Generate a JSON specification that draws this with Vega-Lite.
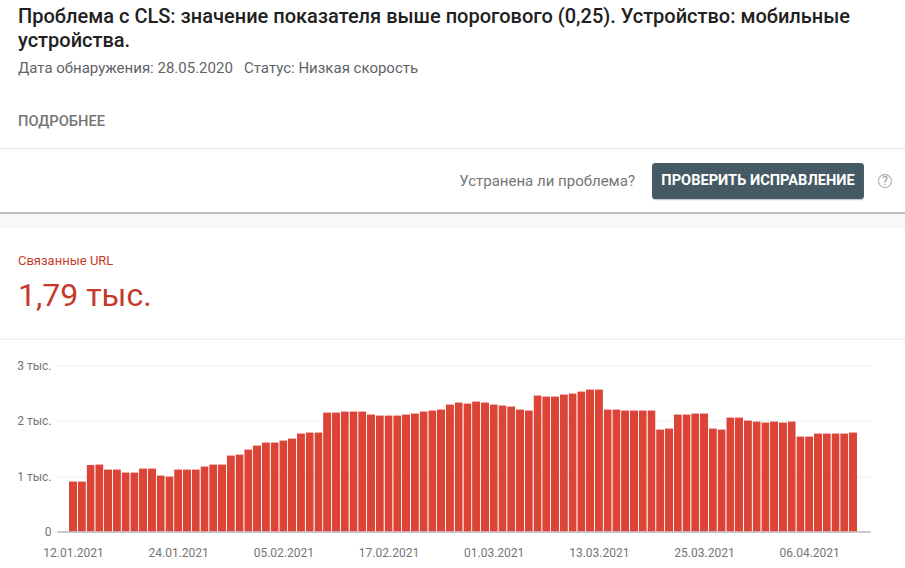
{"$schema":"https://vega.github.io/schema/vega-lite/v6.json","width":813,"height":166,"autosize":"none","padding":{"left":57,"top":365.5,"right":35,"bottom":36.5},"background":"white","view":{"stroke":null},"title":{"text":["Проблема с CLS: значение показателя выше порогового (0,25). Устройство: мобильные","устройства."],"subtitle":"Дата обнаружения: 28.05.2020\u00a0\u00a0\u00a0Статус: Низкая скорость","anchor":"start","frame":"group","dx":-39,"offset":38,"font":"Roboto","fontSize":20,"fontWeight":500,"color":"#212121","lineHeight":24,"subtitleFont":"Roboto","subtitleFontSize":15,"subtitleColor":"#5f6368","subtitlePadding":10},
"data":{"values":[{"d":"2021-01-12","v":910},{"d":"2021-01-13","v":910},{"d":"2021-01-14","v":1200},{"d":"2021-01-15","v":1217},{"d":"2021-01-16","v":1127},{"d":"2021-01-17","v":1127},{"d":"2021-01-18","v":1072},{"d":"2021-01-19","v":1072},{"d":"2021-01-20","v":1145},{"d":"2021-01-21","v":1145},{"d":"2021-01-22","v":1018},{"d":"2021-01-23","v":1000},{"d":"2021-01-24","v":1127},{"d":"2021-01-25","v":1127},{"d":"2021-01-26","v":1127},{"d":"2021-01-27","v":1180},{"d":"2021-01-28","v":1217},{"d":"2021-01-29","v":1217},{"d":"2021-01-30","v":1380},{"d":"2021-01-31","v":1398},{"d":"2021-02-01","v":1488},{"d":"2021-02-02","v":1560},{"d":"2021-02-03","v":1614},{"d":"2021-02-04","v":1614},{"d":"2021-02-05","v":1650},{"d":"2021-02-06","v":1687},{"d":"2021-02-07","v":1777},{"d":"2021-02-08","v":1795},{"d":"2021-02-09","v":1795},{"d":"2021-02-10","v":2157},{"d":"2021-02-11","v":2157},{"d":"2021-02-12","v":2175},{"d":"2021-02-13","v":2175},{"d":"2021-02-14","v":2175},{"d":"2021-02-15","v":2120},{"d":"2021-02-16","v":2102},{"d":"2021-02-17","v":2102},{"d":"2021-02-18","v":2102},{"d":"2021-02-19","v":2120},{"d":"2021-02-20","v":2139},{"d":"2021-02-21","v":2175},{"d":"2021-02-22","v":2193},{"d":"2021-02-23","v":2211},{"d":"2021-02-24","v":2301},{"d":"2021-02-25","v":2337},{"d":"2021-02-26","v":2319},{"d":"2021-02-27","v":2355},{"d":"2021-02-28","v":2337},{"d":"2021-03-01","v":2301},{"d":"2021-03-02","v":2283},{"d":"2021-03-03","v":2265},{"d":"2021-03-04","v":2211},{"d":"2021-03-05","v":2193},{"d":"2021-03-06","v":2464},{"d":"2021-03-07","v":2446},{"d":"2021-03-08","v":2446},{"d":"2021-03-09","v":2482},{"d":"2021-03-10","v":2500},{"d":"2021-03-11","v":2536},{"d":"2021-03-12","v":2572},{"d":"2021-03-13","v":2572},{"d":"2021-03-14","v":2211},{"d":"2021-03-15","v":2211},{"d":"2021-03-16","v":2193},{"d":"2021-03-17","v":2193},{"d":"2021-03-18","v":2193},{"d":"2021-03-19","v":2193},{"d":"2021-03-20","v":1849},{"d":"2021-03-21","v":1867},{"d":"2021-03-22","v":2120},{"d":"2021-03-23","v":2120},{"d":"2021-03-24","v":2139},{"d":"2021-03-25","v":2139},{"d":"2021-03-26","v":1867},{"d":"2021-03-27","v":1849},{"d":"2021-03-28","v":2066},{"d":"2021-03-29","v":2066},{"d":"2021-03-30","v":2012},{"d":"2021-03-31","v":1994},{"d":"2021-04-01","v":1976},{"d":"2021-04-02","v":1994},{"d":"2021-04-03","v":1976},{"d":"2021-04-04","v":1994},{"d":"2021-04-05","v":1723},{"d":"2021-04-06","v":1723},{"d":"2021-04-07","v":1777},{"d":"2021-04-08","v":1777},{"d":"2021-04-09","v":1777},{"d":"2021-04-10","v":1777},{"d":"2021-04-11","v":1795}]},
"layer":[
{"mark":{"type":"bar","color":"#db4437","width":8.2,"cornerRadiusTopLeft":1,"cornerRadiusTopRight":1},"encoding":{"x":{"field":"d","type":"temporal","title":null,"scale":{"type":"utc","padding":0,"domain":[{"year":2021,"month":1,"date":10,"hours":4,"minutes":10,"utc":true},{"year":2021,"month":4,"date":12,"hours":22,"minutes":34,"utc":true}],"nice":false},"axis":{"values":[{"year":2021,"month":1,"date":12,"utc":true},{"year":2021,"month":1,"date":24,"utc":true},{"year":2021,"month":2,"date":5,"utc":true},{"year":2021,"month":2,"date":17,"utc":true},{"year":2021,"month":3,"date":1,"utc":true},{"year":2021,"month":3,"date":13,"utc":true},{"year":2021,"month":3,"date":25,"utc":true},{"year":2021,"month":4,"date":6,"utc":true}],"format":"%d.%m.%Y","labelFont":"Roboto","labelFontSize":12,"labelColor":"#757575","ticks":false,"grid":false,"domainColor":"#9e9e9e","domainWidth":1,"labelPadding":16,"labelFlush":false,"labelOverlap":false}},"y":{"field":"v","type":"quantitative","title":null,"scale":{"domain":[0,3000],"nice":false},"axis":{"values":[0,1000,2000,3000],"labelExpr":"datum.value==0?'0':(datum.value/1000)+' тыс.'","labelFont":"Roboto","labelFontSize":12,"labelColor":"#757575","ticks":false,"domain":false,"gridColor":"#eeeeee","gridWidth":1,"labelPadding":6}}}},
{"data":{"values":[{"n":"band"}]},"mark":{"type":"rect","color":"#f8f8f8"},"encoding":{"x":{"datum":{"year":2021,"month":1,"date":3,"hours":16,"minutes":5,"utc":true},"type":"temporal"},"x2":{"datum":{"year":2021,"month":4,"date":16,"hours":22,"minutes":20,"utc":true}},"y":{"datum":5737,"type":"quantitative"},"y2":{"datum":5484}}},
{"data":{"values":[{"n":"line"}]},"mark":{"type":"rule","color":"#e0e0e0","strokeWidth":1},"encoding":{"x":{"datum":{"year":2021,"month":1,"date":3,"hours":16,"minutes":5,"utc":true},"type":"temporal"},"x2":{"datum":{"year":2021,"month":4,"date":16,"hours":22,"minutes":20,"utc":true}},"y":{"datum":6921,"type":"quantitative"}}},
{"data":{"values":[{"n":"line"}]},"mark":{"type":"rule","color":"#e8e8e8","strokeWidth":1},"encoding":{"x":{"datum":{"year":2021,"month":1,"date":3,"hours":16,"minutes":5,"utc":true},"type":"temporal"},"x2":{"datum":{"year":2021,"month":4,"date":16,"hours":22,"minutes":20,"utc":true}},"y":{"datum":3479,"type":"quantitative"}}},
{"data":{"values":[{"n":"shadow"}]},"mark":{"type":"rule","color":"#a8a8a8","strokeWidth":1.5},"encoding":{"x":{"datum":{"year":2021,"month":1,"date":3,"hours":16,"minutes":5,"utc":true},"type":"temporal"},"x2":{"datum":{"year":2021,"month":4,"date":16,"hours":22,"minutes":20,"utc":true}},"y":{"datum":5755,"type":"quantitative"}}},
{"data":{"values":[{"n":"button shadow"}]},"mark":{"type":"rect","color":"#c4cacd","cornerRadius":3},"encoding":{"x":{"datum":{"year":2021,"month":3,"date":19,"hours":1,"minutes":40,"utc":true},"type":"temporal"},"x2":{"datum":{"year":2021,"month":4,"date":12,"hours":6,"utc":true}},"y":{"datum":6640,"type":"quantitative"},"y2":{"datum":5985}}},
{"data":{"values":[{"n":"button"}]},"mark":{"type":"rect","color":"#455a64","cornerRadius":3},"encoding":{"x":{"datum":{"year":2021,"month":3,"date":19,"hours":1,"minutes":40,"utc":true},"type":"temporal"},"x2":{"datum":{"year":2021,"month":4,"date":12,"hours":6,"utc":true}},"y":{"datum":6659,"type":"quantitative"},"y2":{"datum":6008}}},
{"data":{"values":[{"t":"ПОДРОБНЕЕ"}]},"mark":{"type":"text","font":"Roboto","fontSize":14.7,"fontWeight":500,"color":"#757575","align":"left","baseline":"middle"},"encoding":{"text":{"field":"t"},"x":{"datum":{"year":2021,"month":1,"date":5,"hours":17,"minutes":17,"utc":true},"type":"temporal"},"y":{"datum":7400,"type":"quantitative"}}},
{"data":{"values":[{"t":"ПРОВЕРИТЬ ИСПРАВЛЕНИЕ"}]},"mark":{"type":"text","font":"Roboto","fontSize":14.6,"fontWeight":700,"color":"#ffffff","align":"center","baseline":"middle"},"encoding":{"text":{"field":"t"},"x":{"datum":{"year":2021,"month":3,"date":31,"hours":3,"minutes":50,"utc":true},"type":"temporal"},"y":{"datum":6334,"type":"quantitative"}}},
{"data":{"values":[{"t":"Устранена ли проблема?"}]},"mark":{"type":"text","font":"Roboto","fontSize":15,"color":"#757575","align":"right","baseline":"middle"},"encoding":{"text":{"field":"t"},"x":{"datum":{"year":2021,"month":3,"date":17,"hours":3,"utc":true},"type":"temporal"},"y":{"datum":6334,"type":"quantitative"}}},
{"data":{"values":[{"n":"help"}]},"mark":{"type":"point","shape":"circle","size":170,"filled":false,"stroke":"#9e9e9e","strokeWidth":1.3},"encoding":{"x":{"datum":{"year":2021,"month":4,"date":14,"hours":15,"minutes":36,"utc":true},"type":"temporal"},"y":{"datum":6334,"type":"quantitative"}}},
{"data":{"values":[{"t":"?"}]},"mark":{"type":"text","font":"Roboto","fontSize":12,"color":"#9e9e9e","align":"center","baseline":"middle"},"encoding":{"text":{"field":"t"},"x":{"datum":{"year":2021,"month":4,"date":14,"hours":15,"minutes":36,"utc":true},"type":"temporal"},"y":{"datum":6334,"type":"quantitative"}}},
{"data":{"values":[{"t":"Связанные URL"}]},"mark":{"type":"text","font":"Roboto","fontSize":13,"color":"#c5392b","align":"left","baseline":"middle"},"encoding":{"text":{"field":"t"},"x":{"datum":{"year":2021,"month":1,"date":5,"hours":17,"minutes":17,"utc":true},"type":"temporal"},"y":{"datum":4888,"type":"quantitative"}}},
{"data":{"values":[{"t":"1,79 тыс."}]},"mark":{"type":"text","font":"Roboto","fontSize":32,"color":"#c5392b","align":"left","baseline":"middle"},"encoding":{"text":{"field":"t"},"x":{"datum":{"year":2021,"month":1,"date":5,"hours":17,"minutes":17,"utc":true},"type":"temporal"},"y":{"datum":4256,"type":"quantitative"}}}
]}
